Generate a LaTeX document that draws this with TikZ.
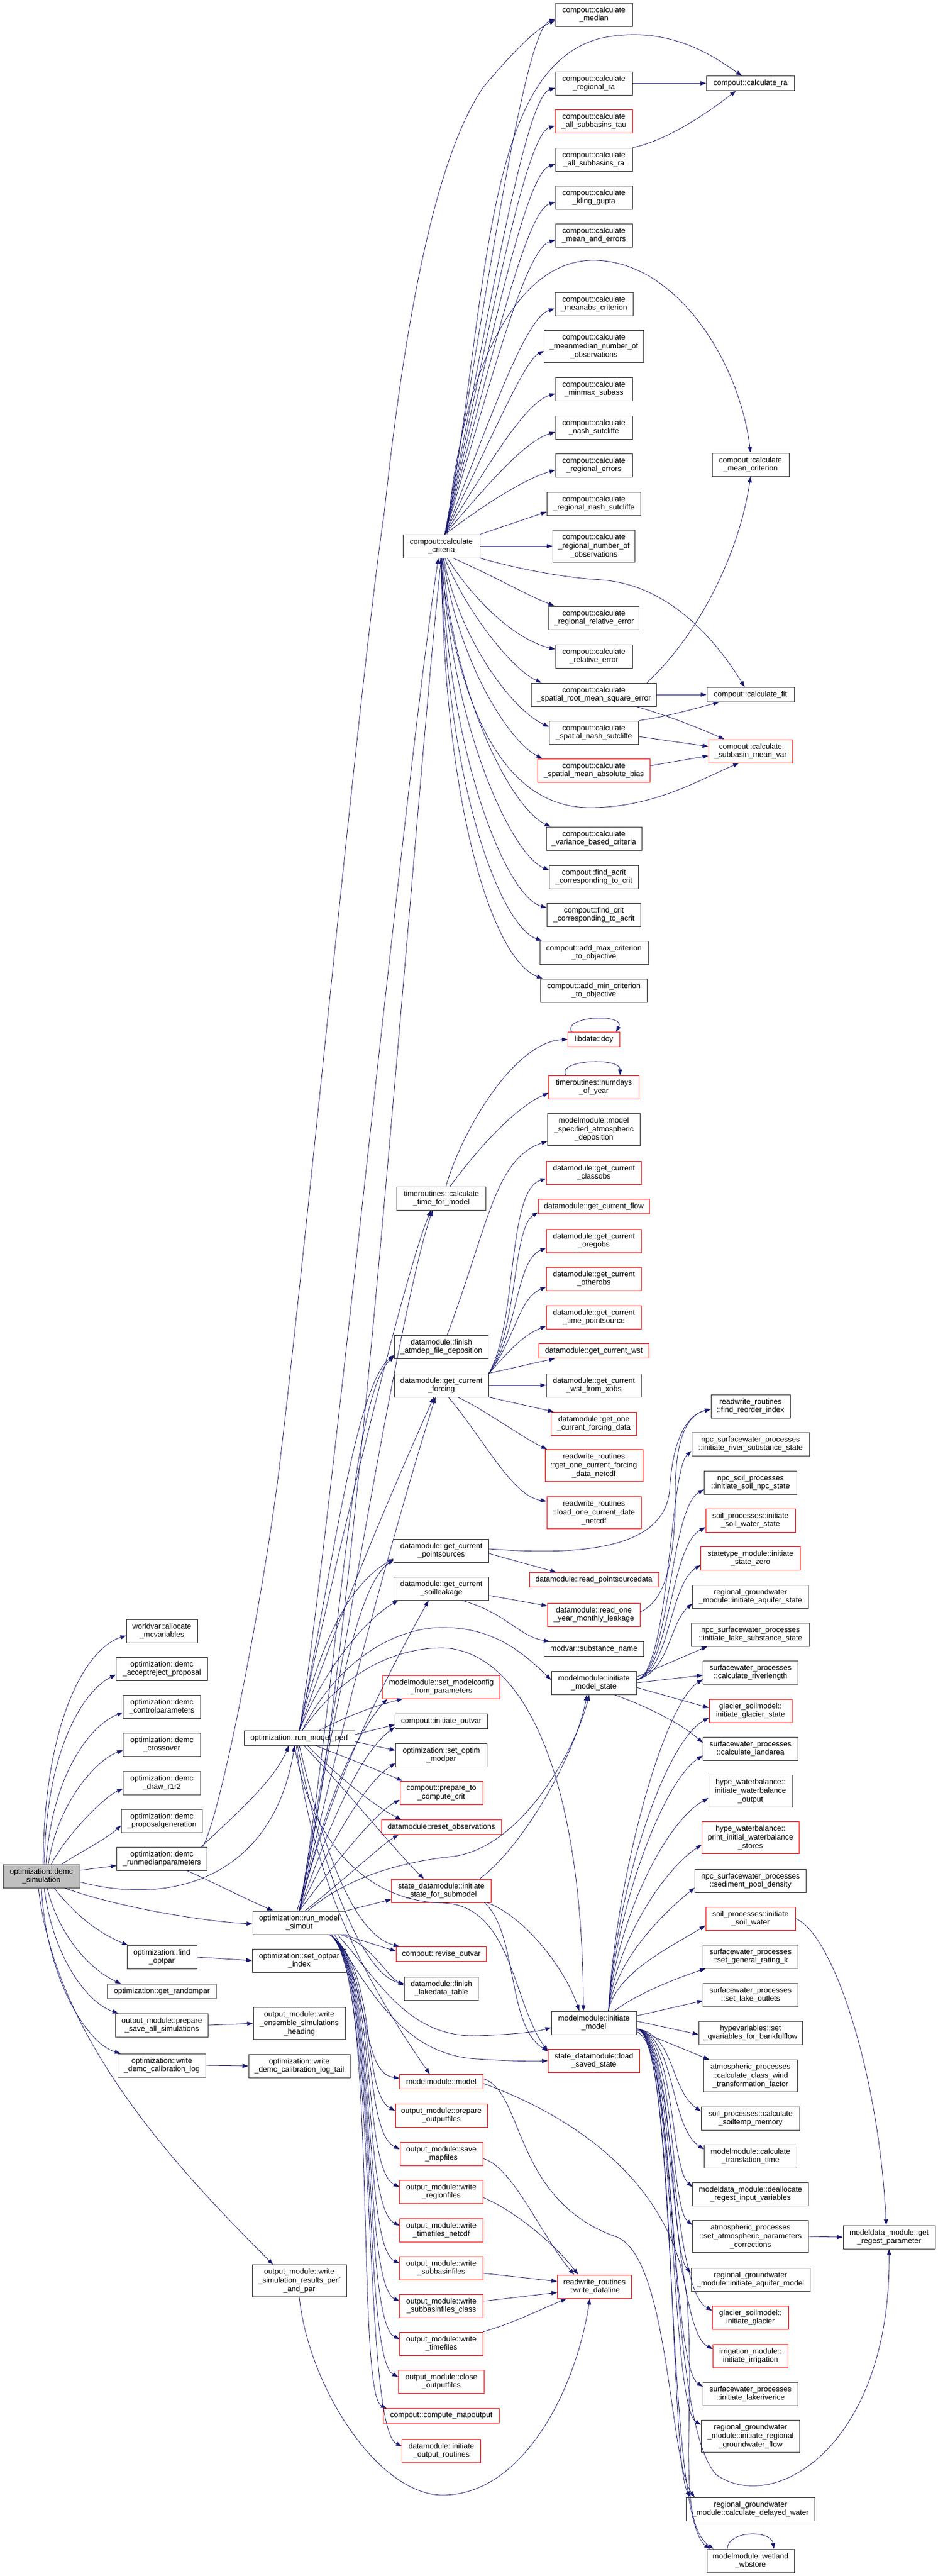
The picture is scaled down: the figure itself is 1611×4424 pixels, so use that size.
\documentclass[tikz,border=0pt]{standalone}
\usepackage{fontspec}
\setmainfont{Liberation Sans}
\usetikzlibrary{arrows.meta}
\definecolor{edgec}{RGB}{25,25,112}
\definecolor{rootfill}{RGB}{191,191,191}
\definecolor{boxc}{RGB}{48,48,48}
\newcommand\fsz{\fontsize{13}{14.6}\selectfont}
\tikzset{
 nb/.style={draw=boxc, line width=0.95pt, fill=white, font=\fsz, align=center, inner xsep=5pt, inner ysep=0pt, minimum height=40pt},
 nr/.style={nb, draw=red},
 lone/.style={minimum height=25pt},
 lthree/.style={minimum height=55pt},
 ed/.style={draw=edgec, line width=0.8pt, -{Triangle[length=10pt,width=7pt]}},
}
\begin{document}
\begin{tikzpicture}[x=1pt,y=-1pt]
\fill[white] (0,0) rectangle (1611,4424);
\useasboundingbox (0,0) rectangle (1611,4424);
% ---------- column 1
\node[nb,fill=rootfill,minimum width=132pt] (root) at (71,3222) {optimization::demc\\\_simulation};
\node[nb,minimum width=122pt] (wv) at (278,2801) {worldvar::allocate\\\_mcvariables};
\node[nb,minimum width=157pt] (ar) at (278,2866) {optimization::demc\\\_acceptreject\_proposal};
\node[nb,minimum width=133pt] (cp) at (278,2931) {optimization::demc\\\_controlparameters};
\node[nb,minimum width=133pt] (co) at (278,2996) {optimization::demc\\\_crossover};
\node[nb,minimum width=133pt] (dr) at (278,3062) {optimization::demc\\\_draw\_r1r2};
\node[nb,minimum width=139pt] (pg) at (278,3127) {optimization::demc\\\_proposalgeneration};
\node[nb,minimum width=155pt] (rm) at (278,3192) {optimization::demc\\\_runmedianparameters};
\node[nb,minimum width=120pt] (fo) at (278,3361) {optimization::find\\\_optpar};
\node[nb,lone,minimum width=187pt] (gr) at (278,3420) {optimization::get\_randompar};
\node[nb,minimum width=159pt] (ps) at (278,3478) {output\_module::prepare\\\_save\_all\_simulations};
\node[nb,minimum width=151pt] (wl) at (278,3547) {optimization::write\\\_demc\_calibration\_log};
% ---------- column 2
\node[nb,lone,minimum width=190pt] (rmp) at (514,2985) {optimization::run\_model\_perf};
\node[nb,minimum width=160pt] (rms) at (514,3302) {optimization::run\_model\\\_simout};
\node[nb,minimum width=161pt] (soi) at (514,3367) {optimization::set\_optpar\\\_index};
\node[nb,lthree,minimum width=158pt] (weh) at (514,3475) {output\_module::write\\\_ensemble\_simulations\\\_heading};
\node[nb,minimum width=174pt] (wlt) at (514,3548) {optimization::write\\\_demc\_calibration\_log\_tail};
\node[nb,lthree,minimum width=162pt] (wsr) at (514,3917) {output\_module::write\\\_simulation\_results\_perf\\\_and\_par};
% ---------- column 3
\node[nb,minimum width=132pt] (crit) at (758,938) {compout::calculate\\\_criteria};
\node[nb,minimum width=153pt] (tfm) at (758,2058) {timeroutines::calculate\\\_time\_for\_model};
\node[nb,minimum width=161pt] (fad) at (758,2313) {datamodule::finish\\\_atmdep\_file\_deposition};
\node[nb,minimum width=162pt] (gcf) at (758,2379) {datamodule::get\_current\\\_forcing};
\node[nb,minimum width=163pt] (gcp) at (758,2663) {datamodule::get\_current\\\_pointsources};
\node[nb,minimum width=163pt] (gcs) at (758,2728) {datamodule::get\_current\\\_soilleakage};
\node[nr,minimum width=201pt] (smc) at (758,2897) {modelmodule::set\_modelconfig\\\_from\_parameters};
\node[nb,lone,minimum width=159pt] (iov) at (758,2956) {compout::initiate\_outvar};
\node[nb,minimum width=157pt] (som) at (758,3014) {optimization::set\_optim\\\_modpar};
\node[nr,minimum width=142pt] (ptc) at (758,3079) {compout::prepare\_to\\\_compute\_crit};
\node[nr,lone,minimum width=206pt] (ros) at (758,3138) {datamodule::reset\_observations};
\node[nr,minimum width=171pt] (isf) at (758,3247) {state\_datamodule::initiate\\\_state\_for\_submodel};
\node[nr,lone,minimum width=155pt] (rov) at (758,3356) {compout::revise\_outvar};
\node[nb,minimum width=127pt] (flt) at (758,3415) {datamodule::finish\\\_lakedata\_table};
\node[nr,lone,minimum width=143pt] (mm) at (758,3575) {modelmodule::model};
\node[nr,minimum width=158pt] (pof) at (758,3633) {output\_module::prepare\\\_outputfiles};
\node[nr,minimum width=142pt] (smf) at (758,3699) {output\_module::save\\\_mapfiles};
\node[nr,minimum width=143pt] (wrf) at (758,3764) {output\_module::write\\\_regionfiles};
\node[nr,minimum width=143pt] (wtn) at (758,3830) {output\_module::write\\\_timefiles\_netcdf};
\node[nr,minimum width=143pt] (wsf) at (758,3895) {output\_module::write\\\_subbasinfiles};
\node[nr,minimum width=143pt] (wsc) at (758,3960) {output\_module::write\\\_subbasinfiles\_class};
\node[nr,minimum width=143pt] (wtf) at (758,4025) {output\_module::write\\\_timefiles};
\node[nr,minimum width=147pt] (cof) at (758,4090) {output\_module::close\\\_outputfiles};
\node[nr,lone,minimum width=199pt] (cmo) at (758,4149) {compout::compute\_mapoutput};
\node[nr,minimum width=135pt] (ior) at (758,4209) {datamodule::initiate\\\_output\_routines};
% ---------- column 4
\node[nb,minimum width=132pt] (med) at (1020,25) {compout::calculate\\\_median};
\node[nb,minimum width=132pt] (rra) at (1020,143) {compout::calculate\\\_regional\_ra};
\node[nr,minimum width=133pt] (ast) at (1020,208) {compout::calculate\\\_all\_subbasins\_tau};
\node[nb,minimum width=132pt] (asr) at (1020,274) {compout::calculate\\\_all\_subbasins\_ra};
\node[nb,minimum width=132pt] (kg) at (1020,339) {compout::calculate\\\_kling\_gupta};
\node[nb,minimum width=132pt] (mae) at (1020,404) {compout::calculate\\\_mean\_and\_errors};
\node[nb,minimum width=134pt] (mac) at (1020,522) {compout::calculate\\\_meanabs\_criterion};
\node[nb,lthree,minimum width=171pt] (mmn) at (1020,595) {compout::calculate\\\_meanmedian\_number\_of\\\_observations};
\node[nb,minimum width=132pt] (mms) at (1020,668) {compout::calculate\\\_minmax\_subass};
\node[nb,minimum width=132pt] (ns) at (1020,734) {compout::calculate\\\_nash\_sutcliffe};
\node[nb,minimum width=132pt] (re) at (1020,799) {compout::calculate\\\_regional\_errors};
\node[nb,minimum width=161pt] (rns) at (1020,865) {compout::calculate\\\_regional\_nash\_sutcliffe};
\node[nb,lthree,minimum width=141pt] (rno) at (1020,938) {compout::calculate\\\_regional\_number\_of\\\_observations};
\node[nb,minimum width=155pt] (rre) at (1020,1061) {compout::calculate\\\_regional\_relative\_error};
\node[nb,minimum width=132pt] (rle) at (1020,1127) {compout::calculate\\\_relative\_error};
\node[nb,minimum width=215pt] (srm) at (1020,1193) {compout::calculate\\\_spatial\_root\_mean\_square\_error};
\node[nb,minimum width=153pt] (sns) at (1020,1258) {compout::calculate\\\_spatial\_nash\_sutcliffe};
\node[nr,minimum width=193pt] (smb) at (1020,1323) {compout::calculate\\\_spatial\_mean\_absolute\_bias};
\node[nb,minimum width=164pt] (vbc) at (1020,1440) {compout::calculate\\\_variance\_based\_criteria};
\node[nb,minimum width=153pt] (fac) at (1020,1506) {compout::find\_acrit\\\_corresponding\_to\_crit};
\node[nb,minimum width=161pt] (fca) at (1020,1571) {compout::find\_crit\\\_corresponding\_to\_acrit};
\node[nb,minimum width=186pt] (amx) at (1020,1636) {compout::add\_max\_criterion\\\_to\_objective};
\node[nb,minimum width=183pt] (amn) at (1020,1701) {compout::add\_min\_criterion\\\_to\_objective};
\node[nr,lone,minimum width=89pt] (doy) at (1020,1785) {libdate::doy};
\node[nr,minimum width=155pt] (ndy) at (1020,1867) {timeroutines::numdays\\\_of\_year};
\node[nb,lthree,minimum width=159pt] (msa) at (1020,1940) {modelmodule::model\\\_specified\_atmospheric\\\_deposition};
\node[nr,minimum width=163pt] (gco) at (1020,2014) {datamodule::get\_current\\\_classobs};
\node[nr,lone,minimum width=191pt] (gfl) at (1020,2072) {datamodule::get\_current\_flow};
\node[nr,minimum width=163pt] (gor) at (1020,2131) {datamodule::get\_current\\\_oregobs};
\node[nr,minimum width=163pt] (got) at (1020,2196) {datamodule::get\_current\\\_otherobs};
\node[nr,minimum width=163pt] (gtp) at (1020,2262) {datamodule::get\_current\\\_time\_pointsource};
\node[nr,lone,minimum width=189pt] (gws) at (1020,2320) {datamodule::get\_current\_wst};
\node[nb,minimum width=163pt] (gwx) at (1020,2379) {datamodule::get\_current\\\_wst\_from\_xobs};
\node[nr,minimum width=147pt] (goc) at (1020,2445) {datamodule::get\_one\\\_current\_forcing\_data};
\node[nr,lthree,minimum width=168pt] (gon) at (1020,2517) {readwrite\_routines\\::get\_one\_current\_forcing\\\_data\_netcdf};
\node[nr,lthree,minimum width=162pt] (lod) at (1020,2598) {readwrite\_routines\\::load\_one\_current\_date\\\_netcdf};
\node[nr,lone,minimum width=222pt] (rpd) at (1020,2713) {datamodule::read\_pointsourcedata};
\node[nr,minimum width=159pt] (rol) at (1020,2773) {datamodule::read\_one\\\_year\_monthly\_leakage};
\node[nb,lone,minimum width=171pt] (sn) at (1020,2832) {modvar::substance\_name};
\node[nb,minimum width=146pt] (ims) at (1020,2890) {modelmodule::initiate\\\_model\_state};
\node[nb,minimum width=146pt] (im) at (1020,3474) {modelmodule::initiate\\\_model};
\node[nr,minimum width=157pt] (lss) at (1020,3539) {state\_datamodule::load\\\_saved\_state};
\node[nr,minimum width=127pt] (wdl) at (1021,3927) {readwrite\_routines\\::write\_dataline};
% ---------- column 5
\node[nb,lone,minimum width=151pt] (ra) at (1289,143) {compout::calculate\_ra};
\node[nb,minimum width=132pt] (mcr) at (1289,798) {compout::calculate\\\_mean\_criterion};
\node[nb,lone,minimum width=150pt] (fit) at (1289,1193) {compout::calculate\_fit};
\node[nr,minimum width=144pt] (smv) at (1289,1290) {compout::calculate\\\_subbasin\_mean\_var};
\node[nb,minimum width=136pt] (fri) at (1289,2415) {readwrite\_routines\\::find\_reorder\_index};
\node[nb,minimum width=202pt] (irs) at (1289,2480) {npc\_surfacewater\_processes\\::initiate\_river\_substance\_state};
\node[nb,minimum width=159pt] (isn) at (1289,2546) {npc\_soil\_processes\\::initiate\_soil\_npc\_state};
\node[nr,minimum width=154pt] (isw) at (1289,2611) {soil\_processes::initiate\\\_soil\_water\_state};
\node[nr,minimum width=171pt] (isz) at (1289,2676) {statetype\_module::initiate\\\_state\_zero};
\node[nb,minimum width=199pt] (ias) at (1289,2742) {regional\_groundwater\\\_module::initiate\_aquifer\_state};
\node[nb,minimum width=203pt] (ils) at (1289,2807) {npc\_surfacewater\_processes\\::initiate\_lake\_substance\_state};
\node[nb,minimum width=163pt] (crl) at (1289,2872) {surfacewater\_processes\\::calculate\_riverlength};
\node[nr,minimum width=142pt] (igs) at (1289,2938) {glacier\_soilmodel::\\initiate\_glacier\_state};
\node[nb,minimum width=163pt] (cla) at (1289,3003) {surfacewater\_processes\\::calculate\_landarea};
\node[nb,lthree,minimum width=144pt] (iwo) at (1289,3076) {hype\_waterbalance::\\initiate\_waterbalance\\\_output};
\node[nr,lthree,minimum width=167pt] (piw) at (1289,3156) {hype\_waterbalance::\\print\_initial\_waterbalance\\\_stores};
\node[nb,minimum width=191pt] (spd) at (1289,3230) {npc\_surfacewater\_processes\\::sediment\_pool\_density};
\node[nr,minimum width=154pt] (isl) at (1289,3295) {soil\_processes::initiate\\\_soil\_water};
\node[nb,minimum width=163pt] (sgr) at (1289,3360) {surfacewater\_processes\\::set\_general\_rating\_k};
\node[nb,minimum width=163pt] (slo) at (1289,3426) {surfacewater\_processes\\::set\_lake\_outlets};
\node[nb,minimum width=178pt] (sqb) at (1289,3491) {hypevariables::set\\\_qvariables\_for\_bankfulflow};
\node[nb,lthree,minimum width=161pt] (cwt) at (1289,3565) {atmospheric\_processes\\::calculate\_class\_wind\\\_transformation\_factor};
\node[nb,minimum width=169pt] (stm) at (1289,3638) {soil\_processes::calculate\\\_soiltemp\_memory};
\node[nb,minimum width=159pt] (ctt) at (1289,3703) {modelmodule::calculate\\\_translation\_time};
\node[nb,minimum width=199pt] (dri) at (1289,3768) {modeldata\_module::deallocate\\\_regest\_input\_variables};
\node[nb,lthree,minimum width=199pt] (sap) at (1289,3841) {atmospheric\_processes\\::set\_atmospheric\_parameters\\\_corrections};
\node[nb,minimum width=204pt] (iam) at (1289,3915) {regional\_groundwater\\\_module::initiate\_aquifer\_model};
\node[nr,minimum width=131pt] (ig) at (1289,3980) {glacier\_soilmodel::\\initiate\_glacier};
\node[nr,minimum width=129pt] (ii) at (1289,4046) {irrigation\_module::\\initiate\_irrigation};
\node[nb,minimum width=163pt] (ilr) at (1289,4111) {surfacewater\_processes\\::initiate\_lakeriverice};
\node[nb,lthree,minimum width=169pt] (irg) at (1289,4184) {regional\_groundwater\\\_module::initiate\_regional\\\_groundwater\_flow};
\node[nb,minimum width=221pt] (cdw) at (1289,4309) {regional\_groundwater\\\_module::calculate\_delayed\_water};
\node[nb,minimum width=150pt] (wwb) at (1289,4398) {modelmodule::wetland\\\_wbstore};
% ---------- column 6
\node[nb,minimum width=158pt] (grp) at (1527,3842) {modeldata\_module::get\\\_regest\_parameter};

% ================= edges
% criteria fan upwards
\foreach \t/\yy in {med/25, rra/143, ast/208, asr/274, kg/339, mae/404, mac/522, mmn/595, mms/668, ns/734, re/799}
  \draw[ed] ([xshift=6pt]crit.north) .. controls (835,{\yy+0.55*(918-\yy)}) and (900,{\yy+24}) .. ([yshift=-8pt]\t.west);
\draw[ed] (crit.north east) -- ([yshift=-14pt]rns.west);
\draw[ed] (crit.east) -- (rno.west);
\draw[ed] ([xshift=8pt]crit.north) .. controls (840,500) and (830,120) .. (1030,66) .. controls (1150,40) and (1230,100) .. ([xshift=-15pt]ra.north);
\draw[ed] ([xshift=10pt]crit.north) .. controls (790,650) and (880,450) .. (1016,447) .. controls (1160,445) and (1270,620) .. (mcr.north);
% criteria fan downwards
\draw[ed] ([xshift=20pt]crit.south) .. controls (850,990) and (900,1020) .. ([xshift=10pt]rre.north west);
\draw[ed] ([xshift=10pt]crit.south) .. controls (820,1040) and (890,1100) .. ([yshift=12pt]rle.west);
\draw[ed] ([xshift=6pt]crit.south) .. controls (800,1050) and (880,1150) .. ([xshift=18pt]srm.north west);
\draw[ed] ([xshift=4pt]crit.south) .. controls (790,1100) and (880,1220) .. ([yshift=10pt]sns.west);
\draw[ed] ([xshift=3pt]crit.south) .. controls (785,1130) and (870,1270) .. ([xshift=8pt]smb.north west);
\draw[ed] ([xshift=2pt]crit.south) .. controls (780,1200) and (880,1390) .. ([xshift=8pt]vbc.north west);
\draw[ed] ([xshift=1pt]crit.south) .. controls (775,1250) and (880,1470) .. ([yshift=12pt]fac.west);
\draw[ed] (crit.south) .. controls (770,1300) and (870,1540) .. ([yshift=12pt]fca.west);
\draw[ed] (crit.south) .. controls (765,1350) and (860,1590) .. ([xshift=4pt]amx.north west);
\draw[ed] (crit.south) .. controls (762,1400) and (850,1650) .. ([xshift=4pt]amn.north west);
\draw[ed] (crit.south east) .. controls (900,980) and (980,993) .. (1034,996) .. controls (1150,1005) and (1230,1100) .. ([xshift=-10pt]fit.north);
\draw[ed] ([xshift=-2pt]crit.south) .. controls (790,1250) and (880,1385) .. (1010,1387) .. controls (1120,1388) and (1200,1340) .. ([xshift=-20pt]smv.south);
% compout internal
\draw[ed] (rra.east) -- (ra.west);
\draw[ed] (asr.north east) .. controls (1150,240) and (1220,190) .. ([xshift=-25pt]ra.south);
\draw[ed] ([xshift=-17pt]srm.north east) .. controls (1200,1090) and (1270,950) .. (mcr.south);
\draw[ed] (srm.east) -- (fit.west);
\draw[ed] ([xshift=-35pt]srm.south east) .. controls (1150,1230) and (1200,1250) .. ([xshift=-45pt]smv.north);
\draw[ed] (sns.north east) .. controls (1150,1230) and (1200,1215) .. ([xshift=-54pt]fit.south);
\draw[ed] ([yshift=-7pt]sns.east) -- ([yshift=8pt]smv.west);
\draw[ed] ([yshift=8pt]smb.east) -- ([yshift=-8pt]smv.west);
% time and forcing
\draw[ed] ([xshift=8pt]tfm.north) .. controls (790,1950) and (880,1790) .. (doy.west);
\draw[ed] ([xshift=15pt]tfm.north) .. controls (830,1960) and (890,1900) .. ([yshift=-10pt]ndy.west);
\draw[ed] ([xshift=-38pt]doy.north) .. controls (965,1745) and (1075,1740) .. ([xshift=38pt]doy.north);
\draw[ed] ([xshift=-48pt]ndy.north) .. controls (955,1820) and (1065,1815) .. ([xshift=45pt]ndy.north);
\draw[ed] ([xshift=10pt]fad.north) .. controls (840,2100) and (850,1990) .. ([yshift=-20pt]msa.west);
\draw[ed] (gcf.north east) .. controls (890,2270) and (870,2045) .. ([yshift=-10pt]gco.west);
\draw[ed] (gcf.north east) .. controls (890,2280) and (880,2110) .. ([yshift=-10pt]gfl.west);
\draw[ed] (gcf.north east) .. controls (890,2290) and (885,2165) .. ([yshift=-12pt]gor.west);
\draw[ed] (gcf.north east) .. controls (885,2300) and (890,2230) .. ([yshift=-14pt]got.west);
\draw[ed] (gcf.north east) .. controls (875,2320) and (895,2295) .. ([yshift=-15pt]gtp.west);
\draw[ed] (gcf.north east) -- ([xshift=28pt]gws.south west);
\draw[ed] (gcf.east) -- (gwx.west);
\draw[ed] (gcf.south east) -- ([xshift=5pt]goc.north west);
\draw[ed] ([xshift=28pt]gcf.south) .. controls (830,2420) and (900,2470) .. ([xshift=4pt]gon.north west);
\draw[ed] ([xshift=12pt]gcf.south) .. controls (830,2470) and (880,2570) .. ([yshift=20pt]lod.west);
% point sources, leakage
\draw[ed] ([yshift=-5pt]gcp.east) -- ([xshift=-65pt]rpd.north);
\draw[ed] ([yshift=3pt]gcp.east) .. controls (1000,2672) and (1140,2660) .. (1150,2560) .. controls (1155,2470) and (1180,2430) .. ([yshift=-5pt]fri.west);
\draw[ed] ([yshift=-12pt]gcs.east) -- ([yshift=15pt]rol.west);
\draw[ed] ([xshift=35pt]gcs.south) .. controls (870,2770) and (890,2810) .. ([xshift=10pt]sn.north west);
\draw[ed] ([yshift=5pt]rol.east) .. controls (1140,2750) and (1160,2690) .. (1160,2560) .. controls (1160,2470) and (1180,2430) .. ([yshift=-5pt]fri.west);
% initiate_model_state
\foreach \t/\yy in {irs/2480, isn/2546, isw/2611, isz/2676, ias/2742}
  \draw[ed] ([yshift=5pt]ims.east) .. controls (1150,2870) and (1150,{\yy+45}) .. ([yshift=-12pt]\t.west);
\draw[ed] ([yshift=10pt]ims.east) -- ([xshift=28pt]ils.south west);
\draw[ed] (ims.east) -- ([yshift=-5pt]crl.west);
\draw[ed] ([yshift=-8pt]ims.east) -- ([yshift=5pt]igs.west);
\draw[ed] ([xshift=35pt]ims.south) .. controls (1110,2930) and (1170,2960) .. ([yshift=10pt]cla.west);
% initiate_model
\foreach \t/\yy in {crl/2872, igs/2938, cla/3003, iwo/3076, piw/3156, spd/3230, isl/3295}
  \draw[ed] ([xshift=25pt]im.north) .. controls (1058,{\yy+0.6*(3454-\yy)}) and (1140,{\yy+55}) .. ([yshift=-12pt]\t.west);
\draw[ed] ([xshift=35pt]im.north) .. controls (1100,3420) and (1170,3395) .. ([xshift=5pt]sgr.south west);
\draw[ed] ([yshift=12pt]im.east) -- ([yshift=-10pt]slo.west);
\draw[ed] ([yshift=3pt]im.east) -- ([yshift=-3pt]sqb.west);
\draw[ed] ([yshift=-12pt]im.east) -- ([xshift=10pt]cwt.north west);
\foreach \t/\yy/\s in {stm/3638/12, ctt/3703/12, dri/3768/12, sap/3841/20, iam/3915/12, ig/3980/12, ii/4046/12, ilr/4111/12, irg/4184/20}
  \draw[ed] ([yshift=-10pt]im.east) .. controls (1160,3495) and (1150,{\yy-50}) .. ([yshift=\s pt]\t.west);
\draw[ed] ([yshift=-10pt]im.east) .. controls (1160,3495) and (1150,4230) .. ([xshift=8pt]cdw.north west);
\draw[ed] ([yshift=-10pt]im.east) .. controls (1165,3495) and (1140,4320) .. ([xshift=6pt]wwb.north west);
\draw[ed] ([yshift=-15pt]im.east) .. controls (1170,3520) and (1140,4150) .. (1230,4250) .. controls (1330,4320) and (1530,4200) .. (grp.south);
\draw[ed] ([xshift=-40pt]wwb.north) .. controls (1250,4345) and (1325,4345) .. ([xshift=40pt]wwb.north);
\draw[ed] (isl.east) .. controls (1430,3320) and (1510,3560) .. ([xshift=-5pt]grp.north);
\draw[ed] (sap.east) -- (grp.west);
% modelmodule::model
\draw[ed] ([yshift=5pt]mm.east) .. controls (900,3590) and (880,3780) .. (1060,3842) .. controls (1150,3880) and (1150,4230) .. ([xshift=15pt]cdw.north west);
\draw[ed] ([yshift=-3pt]mm.east) .. controls (1000,3640) and (1160,3760) .. (1180,3950) .. controls (1195,4150) and (1160,4330) .. ([xshift=12pt]wwb.north west);
% state for submodel
\draw[ed] ([xshift=-20pt]isf.north east) .. controls (900,3170) and (990,3010) .. ([xshift=-12pt]ims.south);
\draw[ed] ([xshift=-8pt]isf.south east) .. controls (900,3290) and (970,3380) .. ([xshift=-25pt]im.north);
\draw[ed] ([xshift=-12pt]isf.south east) .. controls (890,3320) and (870,3480) .. ([yshift=-4pt]lss.north west);
% run_model_perf
\draw[ed] (rmp.north) .. controls (560,2700) and (700,1300) .. ([xshift=-5pt]crit.south);
\draw[ed] (rmp.north) .. controls (560,2750) and (690,2200) .. ([xshift=-18pt]tfm.south);
\draw[ed] (rmp.north) .. controls (570,2700) and (610,2380) .. ([yshift=-14pt]fad.west);
\draw[ed] (rmp.north) .. controls (590,2750) and (700,2500) .. ([xshift=-13pt]gcf.south);
\draw[ed] (rmp.north) .. controls (550,2820) and (600,2720) .. ([yshift=-14pt]gcp.west);
\draw[ed] (rmp.north) .. controls (560,2860) and (630,2780) .. ([xshift=8pt]gcs.south west);
\draw[ed] ([xshift=5pt]rmp.north) .. controls (580,2850) and (680,2795) .. (760,2795) .. controls (850,2795) and (900,2840) .. ([yshift=5pt]ims.west);
\draw[ed] ([xshift=5pt]rmp.north) .. controls (590,2870) and (680,2830) .. (760,2830) .. controls (900,2835) and (1000,3050) .. ([xshift=-18pt]im.north);
\draw[ed] ([xshift=34pt]rmp.north) .. controls (600,2945) and (650,2928) .. ([xshift=35pt]smc.south west);
\draw[ed] ([yshift=6pt]rmp.east) -- ([yshift=-6pt]iov.west);
\draw[ed] ([yshift=-6pt]rmp.east) -- ([yshift=8pt]som.west);
\draw[ed] ([xshift=28pt]rmp.south) .. controls (600,3020) and (660,3045) .. ([xshift=5pt]ptc.north west);
\draw[ed] ([xshift=14pt]rmp.south) .. controls (580,3050) and (640,3100) .. ([xshift=35pt]ros.north west);
\draw[ed] ([xshift=8pt]rmp.south) .. controls (600,3080) and (680,3180) .. ([xshift=-30pt]isf.north);
\draw[ed] (rmp.south) .. controls (550,3150) and (600,3320) .. ([xshift=6pt]rov.north west);
\draw[ed] ([xshift=-3pt]rmp.south) .. controls (550,3200) and (620,3390) .. ([yshift=8pt]flt.west);
\draw[ed] ([xshift=-5pt]rmp.south) .. controls (540,3250) and (640,3420) .. ([xshift=-20pt]mm.north);
\draw[ed] ([xshift=-8pt]rmp.south) .. controls (530,3150) and (620,3265) .. (760,3268) .. controls (880,3272) and (880,3440) .. ([yshift=-4pt]lss.north west);
% run_model_simout
\draw[ed] ([xshift=-4pt]rms.north) .. controls (600,3000) and (710,1400) .. (crit.south);
\draw[ed] (rms.north) .. controls (580,2900) and (690,2230) .. ([xshift=-15pt]tfm.south);
\draw[ed] (rms.north) .. controls (580,2900) and (600,2400) .. ([yshift=-16pt]fad.west);
\draw[ed] (rms.north) .. controls (600,2900) and (700,2550) .. ([xshift=-10pt]gcf.south);
\draw[ed] (rms.north) .. controls (560,3050) and (600,2730) .. ([yshift=-16pt]gcp.west);
\draw[ed] (rms.north) .. controls (570,3050) and (680,2850) .. ([xshift=-22pt]gcs.south);
\draw[ed] ([xshift=15pt]rms.north) .. controls (600,3220) and (700,3196) .. (780,3188) .. controls (900,3170) and (990,3000) .. ([xshift=-8pt]ims.south);
\draw[ed] (rms.north) .. controls (560,3090) and (610,2980) .. ([xshift=8pt]smc.south west);
\draw[ed] (rms.north) .. controls (570,3120) and (620,3010) .. ([yshift=-10pt]iov.west);
\draw[ed] (rms.north) .. controls (575,3150) and (630,3060) .. ([yshift=-14pt]som.west);
\draw[ed] (rms.north) .. controls (590,3180) and (650,3110) .. ([yshift=-12pt]ptc.west);
\draw[ed] ([xshift=10pt]rms.north) .. controls (600,3220) and (660,3165) .. ([xshift=30pt]ros.south west);
\draw[ed] (rms.north east) -- ([yshift=-15pt]isf.west);
\draw[ed] ([xshift=-5pt]rms.south east) -- ([yshift=5pt]rov.west);
\draw[ed] ([xshift=-10pt]rms.south east) .. controls (640,3340) and (660,3390) .. ([yshift=5pt]flt.west);
\draw[ed] ([xshift=-15pt]rms.south east) .. controls (650,3400) and (700,3500) .. (820,3496) .. controls (880,3494) and (920,3490) .. ([yshift=-8pt]im.west);
\draw[ed] ([xshift=-20pt]rms.south east) .. controls (640,3430) and (700,3530) .. (820,3536) .. controls (880,3540) and (920,3540) .. (lss.west);
\draw[ed] ([xshift=-25pt]rms.south east) .. controls (640,3420) and (620,3560) .. ([yshift=6pt]mm.west);
\foreach \t/\yy in {pof/3633, smf/3699, wrf/3764, wtn/3830, wsf/3895, wsc/3960, wtf/4025, cof/4090, ior/4209}
  \draw[ed] ([xshift=-28pt]rms.south east) .. controls (650,3380) and (620,{\yy-40}) .. ([yshift=8pt]\t.west);
\draw[ed] ([xshift=-28pt]rms.south east) .. controls (650,3380) and (610,4110) .. ([xshift=6pt]cmo.north west);
% outputs to write_dataline
\draw[ed] ([yshift=-8pt]smf.east) .. controls (880,3720) and (930,3840) .. ([xshift=-35pt]wdl.north);
\draw[ed] ([yshift=-10pt]wrf.east) .. controls (880,3795) and (950,3850) .. ([xshift=-28pt]wdl.north);
\draw[ed] ([yshift=-9pt]wsf.east) -- ([yshift=9pt]wdl.west);
\draw[ed] ([yshift=8pt]wsc.east) -- ([yshift=-10pt]wdl.west);
\draw[ed] (wtf.north east) .. controls (880,3990) and (920,3970) .. ([xshift=-48pt]wdl.south);
\draw[ed] (wsr.south) .. controls (530,4100) and (650,4285) .. (760,4285) .. controls (900,4285) and (990,4100) .. ([xshift=-8pt]wdl.south);
% root
\draw[ed] ([xshift=3pt]root.north) .. controls (76,2950) and (150,2830) .. ([yshift=-8pt]wv.west);
\draw[ed] ([xshift=5pt]root.north) .. controls (80,2990) and (150,2900) .. ([yshift=-10pt]ar.west);
\draw[ed] ([xshift=8pt]root.north) .. controls (90,3040) and (160,2960) .. ([yshift=-10pt]cp.west);
\draw[ed] ([xshift=12pt]root.north) .. controls (100,3090) and (170,3020) .. ([yshift=-10pt]co.west);
\draw[ed] ([xshift=17pt]root.north) .. controls (115,3150) and (180,3085) .. ([yshift=-10pt]dr.west);
\draw[ed] ([xshift=35pt]root.north) .. controls (130,3185) and (180,3160) .. ([yshift=-8pt]pg.west);
\draw[ed] ([yshift=10pt]root.east) -- ([yshift=-12pt]rm.west);
\draw[ed] ([yshift=-10pt]root.east) .. controls (300,3275) and (470,3220) .. ([xshift=-8pt]rmp.south);
\draw[ed] ([xshift=40pt]root.south) .. controls (200,3275) and (350,3300) .. ([yshift=-2pt]rms.west);
\draw[ed] ([xshift=22pt]root.south) .. controls (130,3290) and (170,3320) .. ([xshift=2pt]fo.north west);
\draw[ed] ([xshift=10pt]root.south) .. controls (100,3320) and (150,3380) .. ([xshift=24pt]gr.north west);
\draw[ed] ([xshift=5pt]root.south) .. controls (90,3360) and (150,3440) .. ([xshift=5pt]ps.north west);
\draw[ed] (root.south) .. controls (80,3400) and (150,3510) .. ([xshift=5pt]wl.north west);
\draw[ed] ([xshift=-5pt]root.south) .. controls (95,3500) and (300,3720) .. ([xshift=-45pt]wsr.north);
% runmedianparameters
\draw[ed] ([xshift=-8pt]rm.north east) .. controls (380,3120) and (460,2700) .. (482,2500) .. controls (530,2100) and (620,1150) .. (660,880) .. controls (690,600) and (740,280) .. (830,150) .. controls (880,90) and (920,50) .. ([yshift=-10pt]med.west);
\draw[ed] ([xshift=-10pt]rm.north east) .. controls (400,3120) and (470,3060) .. ([xshift=-18pt]rmp.south);
\draw[ed] ([xshift=43pt]rm.south) .. controls (360,3230) and (420,3260) .. ([xshift=-45pt]rms.north);
% small left edges
\draw[ed] (fo.east) -- (soi.west);
\draw[ed] (ps.east) -- (weh.west);
\draw[ed] (wl.east) -- (wlt.west);
\end{tikzpicture}
\end{document}
